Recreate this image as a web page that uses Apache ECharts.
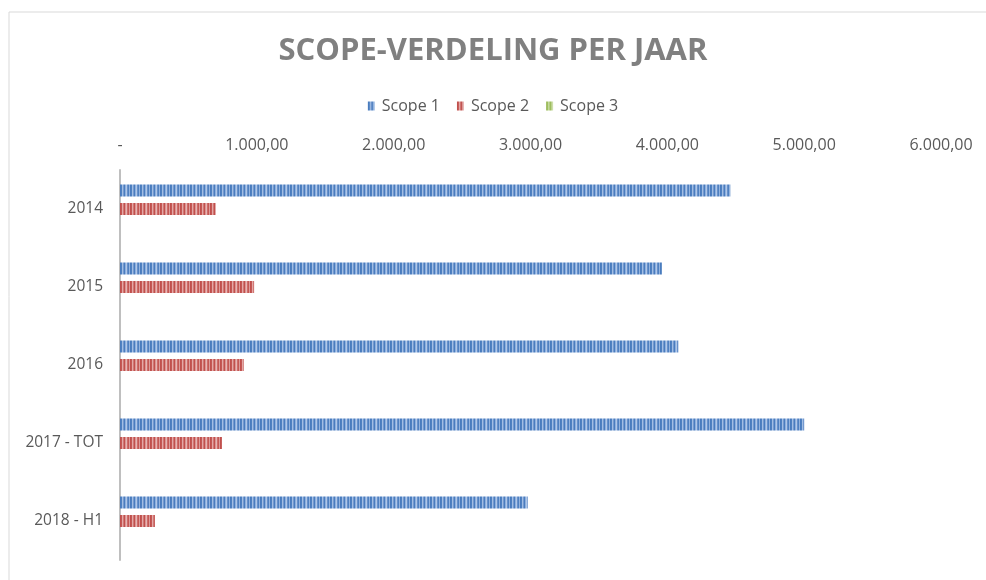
<!DOCTYPE html>
<html><head><meta charset="UTF-8">
<title>Scope-verdeling per jaar</title>
<script src="https://cdn.jsdelivr.net/npm/echarts@6/dist/echarts.min.js"></script>
<style>
html, body { margin: 0; padding: 0; background: #fff; }
#chart { width: 986px; height: 580px; }
</style>
</head>
<body>
<div id="chart"></div>
<script type="text/javascript">
// data
var categories = ['2014', '2015', '2016', '2017 - TOT', '2018 - H1'];
var scope1 = [4460, 3960, 4080, 5000, 2980];
var scope2 = [700, 980, 905, 745, 255];
var scope3 = [0, 0, 0, 0, 0];
var seriesNames = ['Scope 1', 'Scope 2', 'Scope 3'];

// striped fill like the excel bars
function stripes(shades) {
    var c = document.createElement('canvas');
    c.width = shades.length;
    c.height = 4;
    var ctx = c.getContext('2d');
    for (var i = 0; i < shades.length; i++) {
        ctx.fillStyle = shades[i];
        ctx.fillRect(i, 0, 1, 4);
    }
    return { image: c, repeat: 'repeat' };
}
var blue = stripes(['#4a7cbe', '#4f81c1', '#a3bee4', '#7399cf', '#4a7cbe', '#8dafdd', '#b0c8e9', '#6890ca', '#4f81c1', '#95b4df']);
var red = stripes(['#c0504d', '#c45855', '#e4a9a7', '#d17774', '#c0504d', '#db9492', '#e8b5b4', '#cd6d6a', '#c45855', '#de9c9a']);
var green = stripes(['#9bbb59', '#a0bf60', '#c9dca5', '#b1cb7d', '#9bbb59', '#bfd594', '#cfe0af', '#aac674', '#a0bf60', '#c3d79b']);

function fmt(v) {
    if (v === 0) return '-';
    var s = Math.round(v).toString().replace(/\B(?=(\d{3})+(?!\d))/g, '.');
    return s + ',00';
}

var myChart = echarts.init(document.getElementById('chart'));
var option = {
    animation: false,
    textStyle: { fontFamily: 'Open Sans' },
    graphic: [{
        type: 'rect',
        shape: { x: 9, y: 12, width: 1000, height: 600 },
        style: { fill: 'none', stroke: '#d9d9d9', lineWidth: 1 }
    }],
    title: {
        text: 'SCOPE-VERDELING PER JAAR',
        left: 'center',
        top: 31,
        textStyle: { fontSize: 31, fontWeight: 'bold', color: '#808080', fontFamily: 'Open Sans' }
    },
    legend: {
        data: seriesNames,
        top: 93,
        left: 'center',
        itemWidth: 7,
        itemHeight: 9,
        itemGap: 17,
        icon: 'rect',
        textStyle: { fontSize: 16, color: '#595959', padding: [0, 0, 0, 2] }
    },
    grid: { left: 120, right: 45, top: 170, bottom: 20 },
    xAxis: {
        type: 'value',
        position: 'top',
        min: 0,
        max: 6000,
        interval: 1000,
        axisLine: { show: false },
        axisTick: { show: false },
        splitLine: { show: false },
        axisLabel: { color: '#595959', fontSize: 16, margin: 17, formatter: fmt }
    },
    yAxis: {
        type: 'category',
        data: categories,
        inverse: true,
        axisLine: { show: true, lineStyle: { color: '#bfbfbf', width: 2 } },
        axisTick: { show: false },
        axisLabel: { color: '#595959', fontSize: 15.5, margin: 17 }
    },
    series: [
        { name: seriesNames[0], type: 'bar', data: scope1, barWidth: 12, barGap: '55%', itemStyle: { color: blue } },
        { name: seriesNames[1], type: 'bar', data: scope2, barWidth: 12, barGap: '55%', itemStyle: { color: red } },
        { name: seriesNames[2], type: 'bar', data: scope3, barWidth: 12, barGap: '55%', itemStyle: { color: green } }
    ]
};
myChart.setOption(option);
</script>
</body></html>
